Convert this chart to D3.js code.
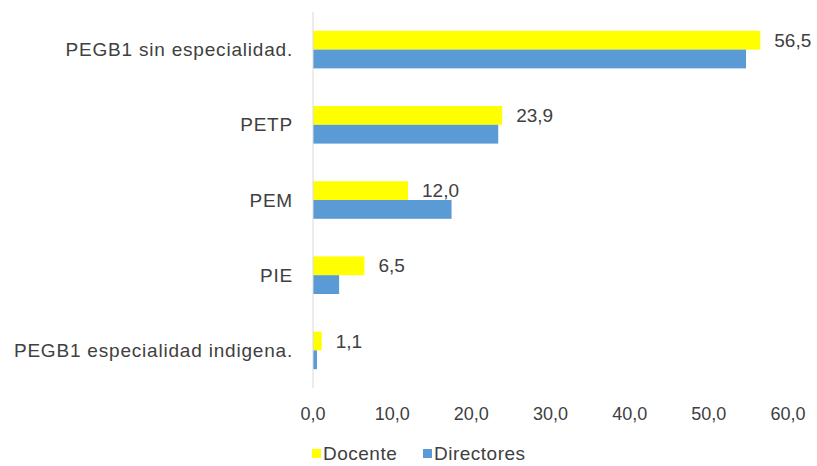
<!DOCTYPE html>
<html>
<head>
<meta charset="utf-8">
<script src="https://cdn.jsdelivr.net/npm/d3@7"></script>
<style>
  body { margin: 0; background: #fff; }
  svg text { font-family: "Liberation Sans", Arial, sans-serif; fill: #404040; }
</style>
</head>
<body>
<svg id="chart" width="817" height="466"></svg>
<script>
const categories = ["PEGB1 sin especialidad.", "PETP", "PEM", "PIE", "PEGB1 especialidad indigena."];
const docente = [56.5, 23.9, 12.0, 6.5, 1.1];
const directores = [54.7, 23.4, 17.5, 3.3, 0.5];
const xTicks = [0, 10, 20, 30, 40, 50, 60];
const seriesNames = ["Docente", "Directores"];
const colors = ["#FFFF00", "#5B9BD5"];

const svg = d3.select("#chart");
const margin = {left: 313, right: 29, top: 12, bottom: 78};
const width = 817, height = 466;

const fmt = v => d3.format(".1f")(v).replace(".", ",");

const x = d3.scaleLinear().domain([0, 60]).range([margin.left, width - margin.right]);
const y = d3.scaleBand().domain(categories).range([margin.top, height - margin.bottom]).paddingInner(0.5).paddingOuter(0.25);
const ySub = d3.scaleBand().domain(seriesNames).range([0, y.bandwidth()]);

const series = [docente, directores];

// bars
const groups = svg.selectAll(".cat").data(categories).enter().append("g")
  .attr("class", "cat")
  .attr("transform", d => `translate(0,${y(d)})`);

seriesNames.forEach((name, s) => {
  groups.append("rect")
    .attr("x", x(0))
    .attr("y", ySub(name))
    .attr("width", (d, i) => x(series[s][i]) - x(0))
    .attr("height", ySub.bandwidth())
    .attr("fill", colors[s]);
});

// value labels on Docente
groups.append("text")
  .attr("x", (d, i) => x(docente[i]) + 14)
  .attr("y", ySub("Docente") + ySub.bandwidth() / 2)
  .attr("dy", "0.35em")
  .attr("font-size", 19)
  .text((d, i) => fmt(docente[i]));

// vertical axis line
svg.append("line")
  .attr("x1", x(0)).attr("x2", x(0))
  .attr("y1", margin.top).attr("y2", height - margin.bottom)
  .attr("stroke", "#D9D9D9").attr("stroke-width", 1);

// category labels
svg.selectAll(".catlabel").data(categories).enter().append("text")
  .attr("x", 293)
  .attr("y", d => y(d) + y.bandwidth() / 2)
  .attr("dy", "0.35em")
  .attr("text-anchor", "end")
  .attr("font-size", 19)
  .attr("letter-spacing", "0.8px")
  .text(d => d);

// x tick labels
svg.selectAll(".tick").data(xTicks).enter().append("text")
  .attr("x", d => x(d))
  .attr("y", 420)
  .attr("text-anchor", "middle")
  .attr("font-size", 18)
  .text(d => fmt(d));

// legend
const legendX = [312, 423];
const legend = svg.selectAll(".leg").data(seriesNames).enter().append("g")
  .attr("transform", (d, i) => `translate(${legendX[i]},453)`);
legend.append("rect").attr("x", 0).attr("y", -4).attr("width", 9).attr("height", 9)
  .attr("fill", (d, i) => colors[i]);
legend.append("text").attr("x", 11).attr("dy", "0.35em").attr("font-size", 19)
  .attr("letter-spacing", "0.5px").text(d => d);
</script>
</body>
</html>
